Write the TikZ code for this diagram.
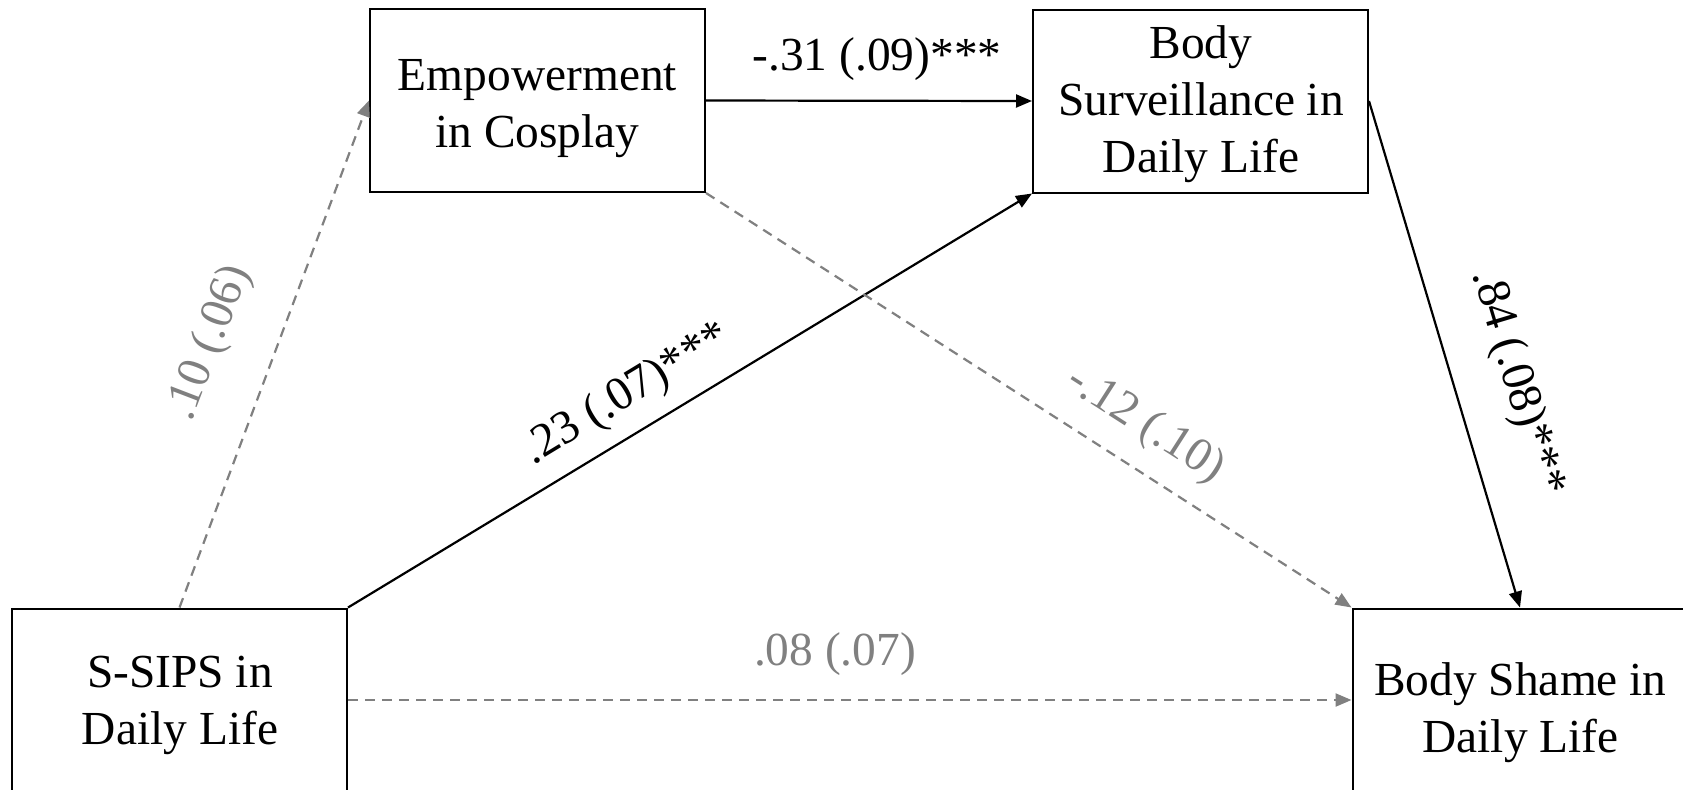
\documentclass[tikz,border=0pt]{standalone}
\usepackage{fontspec}
\setmainfont{Liberation Serif}
\usetikzlibrary{arrows.meta}
\definecolor{pathgray}{RGB}{128,128,128}
\tikzset{
  varbox/.style={draw=black, line width=1pt, minimum width=167.5pt, minimum height=91.5pt,
    inner sep=0pt},
  vartext/.style={inner sep=0pt, align=center, font=\fontsize{23.7pt}{28.5pt}\selectfont},
  sigpath/.style={draw=black, line width=1.1pt, -{Triangle[length=8pt,width=6.5pt]}},
  nspath/.style={draw=pathgray, line width=1.1pt, dash pattern=on 5pt off 3.5pt,
    -{Triangle[length=8pt,width=6.5pt]}},
  siglab/.style={text=black, inner sep=0pt, font=\fontsize{23.7pt}{28pt}\selectfont},
  nslab/.style={text=pathgray, inner sep=0pt, font=\fontsize{23.7pt}{28pt}\selectfont}
}
\begin{document}
\begin{tikzpicture}[x=0.5pt,y=-0.5pt]
\path[use as bounding box, clip] (0,0) rectangle (1683,789);
\fill[white] (0,0) rectangle (1683,789);
% boxes
\node[varbox] (emp) at (537.5,100.5) {};
\node[varbox] (surv) at (1200.5,101) {};
\node[varbox] (ssips) at (179.5,700) {};
\node[varbox] (shame) at (1520,700) {};
% box texts
\node[vartext] (emptext) at (537.5,108.7) {Empowerment\\in Cosplay};
\node[vartext] (survtext) at (1201,104) {Body\\Surveillance in\\Daily Life};
\node[vartext] (ssipstext) at (180,705.5) {S-SIPS in\\Daily Life};
\node[vartext] (shametext) at (1520.5,712.5) {Body Shame in\\Daily Life};
% connectors
\draw[nspath] (ssips.north) -- (emp.west);
\draw[sigpath] (ssips.north east) -- (surv.south west);
\draw[sigpath] (emp.east) -- (surv.west);
\draw[nspath] (emp.south east) -- (shame.north west);
\draw[sigpath] (surv.east) -- (shame.north);
\draw[nspath] (ssips.east) -- (shame.west);
% labels
\node[siglab, anchor=base] (l31) at (877,70) {-.31 (.09)***};
\node[siglab, rotate=31.2] (l23) at (627,395) {.23 (.07)***};
\node[nslab, rotate=69] (l10) at (210,343) {.10 (.06)};
\node[nslab, rotate=-32.7] (l12) at (1145,425) {-.12 (.10)};
\node[siglab, rotate=-73.3] (l84) at (1517,383) {.84 (.08)***};
\node[nslab, anchor=base] (l08) at (835,665) {.08 (.07)};
\end{tikzpicture}
\end{document}
